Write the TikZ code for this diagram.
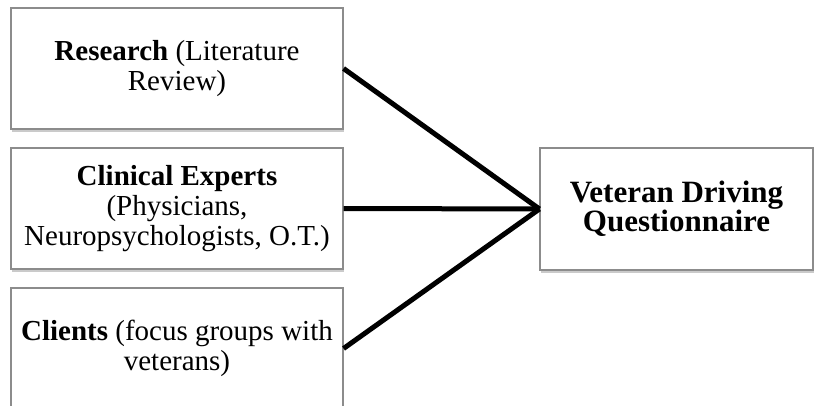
\documentclass[tikz,border=0pt]{standalone}
\usepackage{fontspec}
\setmainfont{Liberation Serif}
\usetikzlibrary{shadows}
\tikzset{
  srcbox/.style={draw=black!45, line width=1.1pt, fill=white, minimum width=332pt, minimum height=121pt,
    inner sep=2pt, align=center, font=\fontsize{29}{30}\selectfont,
    drop shadow={shadow xshift=0.5pt, shadow yshift=-3pt, opacity=0.35, fill=black!60}},
  goalbox/.style={srcbox, minimum width=273pt, minimum height=122pt, font=\fontsize{31}{28.5}\selectfont\bfseries},
  link/.style={line width=5pt, black}
}
\begin{document}
\begin{tikzpicture}[x=1pt,y=-1pt]
\useasboundingbox (0,0) rectangle (814,406);
\node[srcbox] (res) at (177,68.5) {\textbf{Research} (Literature\\Review)};
\node[srcbox] (cli) at (177,208.5) {\textbf{Clinical Experts}\\(Physicians,\\Neuropsychologists, O.T.)};
\node[srcbox] (cl) at (177,348.5) {\textbf{Clients} (focus groups with\\veterans)};
\node[goalbox] (vdq) at (676.5,209) {Veteran Driving\\Questionnaire};
\draw[link] (res.east) -- (vdq.west);
\draw[link] (cli.east) -- (vdq.west);
\draw[link] (cl.east) -- (vdq.west);
\end{tikzpicture}
\end{document}
